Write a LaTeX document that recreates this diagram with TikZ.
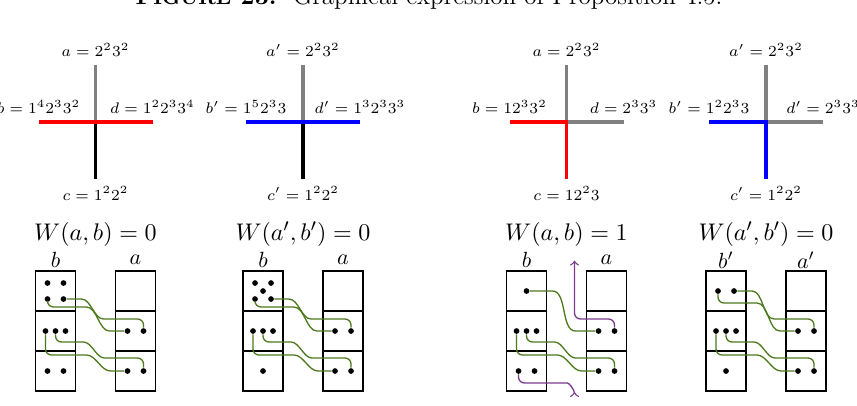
\documentclass[tikz,border=0pt]{standalone}
\usepackage{amsmath,amssymb}
\newdimen\unitsize
\setlength{\unitsize}{0.16cm}
\definecolor{wiregreen}{RGB}{76,122,28}
\definecolor{wirepurple}{RGB}{122,58,142}
\tikzset{
  dot/.style={circle,fill=black,inner sep=0pt,minimum size=2.6pt},
  wire/.style={wiregreen,semithick,rounded corners=0.6\unitsize},
  twist/.style={wirepurple,semithick,rounded corners=0.6\unitsize},
  arm/.style={line width=1.8pt},
  lab/.style={font=\scriptsize},
  wlab/.style={font=\fontsize{11pt}{13pt}\selectfont},
}
\begin{document}
\begin{tikzpicture}[x=\unitsize,y=\unitsize]
\useasboundingbox (0,0) rectangle (85.7,-40.5);
\node[font=\fontsize{11.4pt}{13pt}\selectfont,anchor=base] (cap) at (42.9,-0.45)
  {{\bfseries F{\fontsize{9pt}{11pt}\selectfont IGURE} 23.}\ \ Graphical
   expression of Proposition 4.5.};
% crosses
\foreach \n/\cx in {1/9.55,2/30.3,3/56.65,4/76.6}{
  \coordinate (x\n) at (\cx,-12.17);
  \coordinate (x\n-t) at (\cx,-6.47);
  \coordinate (x\n-b) at (\cx,-17.87);
  \coordinate (x\n-l) at ({\cx-5.7},-12.17);
  \coordinate (x\n-r) at ({\cx+5.7},-12.17);
}
\draw[arm,gray] (x1-t) -- (x1);
\draw[arm] (x1) -- (x1-b);
\draw[arm,red] (x1-l) -- (x1-r);
\node[lab,above] (a1) at (x1-t) {$a=2^23^2$};
\node[lab,above] (b1) at (x1-l) {$b=1^42^33^2$};
\node[lab,above] (d1) at (x1-r) {$d=1^22^33^4$};
\node[lab,below] (c1) at (x1-b) {$c=1^22^2$};
\draw[arm,gray] (x2-t) -- (x2);
\draw[arm] (x2) -- (x2-b);
\draw[arm,blue] (x2-l) -- (x2-r);
\node[lab,above] (a2) at (x2-t) {$a'=2^23^2$};
\node[lab,above] (b2) at (x2-l) {$b'=1^52^33$};
\node[lab,above] (d2) at (x2-r) {$d'=1^32^33^3$};
\node[lab,below] (c2) at (x2-b) {$c'=1^22^2$};
\draw[arm,gray] (x3-t) -- (x3) -- (x3-r);
\draw[arm,red] (x3-l) -- (x3) -- (x3-b);
\node[lab,above] (a3) at (x3-t) {$a=2^23^2$};
\node[lab,above] (b3) at (x3-l) {$b=12^33^2$};
\node[lab,above] (d3) at (x3-r) {$d=2^33^3$};
\node[lab,below] (c3) at (x3-b) {$c=12^23$};
\draw[arm,gray] (x4-t) -- (x4) -- (x4-r);
\draw[arm,blue] (x4-l) -- (x4) -- (x4-b);
\node[lab,above] (a4) at (x4-t) {$a'=2^23^2$};
\node[lab,above] (b4) at (x4-l) {$b'=1^22^33$};
\node[lab,above] (d4) at (x4-r) {$d'=2^33^3$};
\node[lab,below] (c4) at (x4-b) {$c'=1^22^2$};
% winding numbers
\node[wlab] (w1) at (9.55,-23.4) {$W(a,b)=0$};
\node[wlab] (w2) at (30.3,-23.4) {$W(a',b')=0$};
\node[wlab] (w3) at (56.65,-23.4) {$W(a,b)=1$};
\node[wlab] (w4) at (76.6,-23.4) {$W(a',b')=0$};
% columns, common dots and the two lower wires
\foreach \n/\cx/\lb/\la in {1/9.55/b/a,2/30.3/b/a,3/56.65/b/a,4/76.6/b'/a'}{
  \node (p\n-lb) at ({\cx-4},-26) {$\lb$};
  \node (p\n-la) at ({\cx+4},-26) {$\la$};
  \foreach \k in {0,1,2}{
    \draw[semithick] ({\cx-6},{-27.1-4*\k}) rectangle ++(4,-4);
    \draw[semithick] ({\cx+2},{-27.1-4*\k}) rectangle ++(4,-4);
  }
  \node[dot] (p\n-a2l) at ({\cx+3.2},-33.1) {};
  \node[dot] (p\n-a2r) at ({\cx+4.8},-33.1) {};
  \node[dot] (p\n-a3l) at ({\cx+3.2},-37.1) {};
  \node[dot] (p\n-a3r) at ({\cx+4.8},-37.1) {};
  \node[dot] (p\n-b2l) at ({\cx-5},-33.1) {};
  \node[dot] (p\n-b2m) at ({\cx-4},-33.1) {};
  \node[dot] (p\n-b2r) at ({\cx-3},-33.1) {};
  \draw[wire] (p\n-b2m) |- ++(2.2,-1.1) to[out=0,in=180] ++(3.3,-1.6)
    -| (p\n-a3r);
  \draw[wire] (p\n-b2l) |- ++(3.5,-2.4) to[out=0,in=180] ++(3.6,-1.6)
    -- (p\n-a3l);
}
% first column
\node[dot] (p1-b1a) at (4.75,-28.3) {};
\node[dot] (p1-b1b) at (6.35,-28.3) {};
\node[dot] (p1-b1c) at (4.75,-29.9) {};
\node[dot] (p1-b1d) at (6.35,-29.9) {};
\node[dot] (p1-b3a) at (4.75,-37.1) {};
\node[dot] (p1-b3b) at (6.35,-37.1) {};
\draw[wire] (p1-b1d) -- ++(1.2,0) to[out=0,in=180] ++(3.4,-2) -| (p1-a2r);
\draw[wire] (p1-b1c) |- ++(3.3,-0.8) to[out=0,in=180] ++(3.5,-2.4)
  -- (p1-a2l);
% second column
\node[dot] (p2-b1a) at (25.5,-28.3) {};
\node[dot] (p2-b1b) at (27.1,-28.3) {};
\node[dot] (p2-b1e) at (26.3,-29.1) {};
\node[dot] (p2-b1c) at (25.5,-29.9) {};
\node[dot] (p2-b1d) at (27.1,-29.9) {};
\node[dot] (p2-b3) at (26.3,-37.1) {};
\draw[wire] (p2-b1d) -- ++(1.2,0) to[out=0,in=180] ++(3.4,-2) -| (p2-a2r);
\draw[wire] (p2-b1c) |- ++(3.3,-0.8) to[out=0,in=180] ++(3.5,-2.4)
  -- (p2-a2l);
% third column
\node[dot] (p3-b1) at (52.65,-29.1) {};
\node[dot] (p3-b3a) at (51.85,-37.1) {};
\node[dot] (p3-b3b) at (53.45,-37.1) {};
\coordinate (p3-out) at (57.45,-26.07);
\coordinate (p3-in) at (57.45,-39.7);
\draw[wire] (p3-b1) -- ++(2,0) to[out=0,in=180] ++(3.5,-4) -- (p3-a2l);
\draw[twist,->] (p3-a2r) |- ++(-4,1.2) -- (p3-out);
\draw[twist,-<] (p3-b3a) |- ++(4.3,-1.2) to[out=0,in=90] (p3-in);
% fourth column
\node[dot] (p4-b1a) at (71.8,-29.1) {};
\node[dot] (p4-b1b) at (73.4,-29.1) {};
\node[dot] (p4-b3) at (72.6,-37.1) {};
\draw[wire] (p4-b1b) -- ++(1.2,0) to[out=0,in=180] ++(3.4,-2.8) -| (p4-a2r);
\draw[wire] (p4-b1a) |- ++(3.3,-1.2) to[out=0,in=180] ++(3.5,-2.8)
  -- (p4-a2l);
\end{tikzpicture}
\end{document}
